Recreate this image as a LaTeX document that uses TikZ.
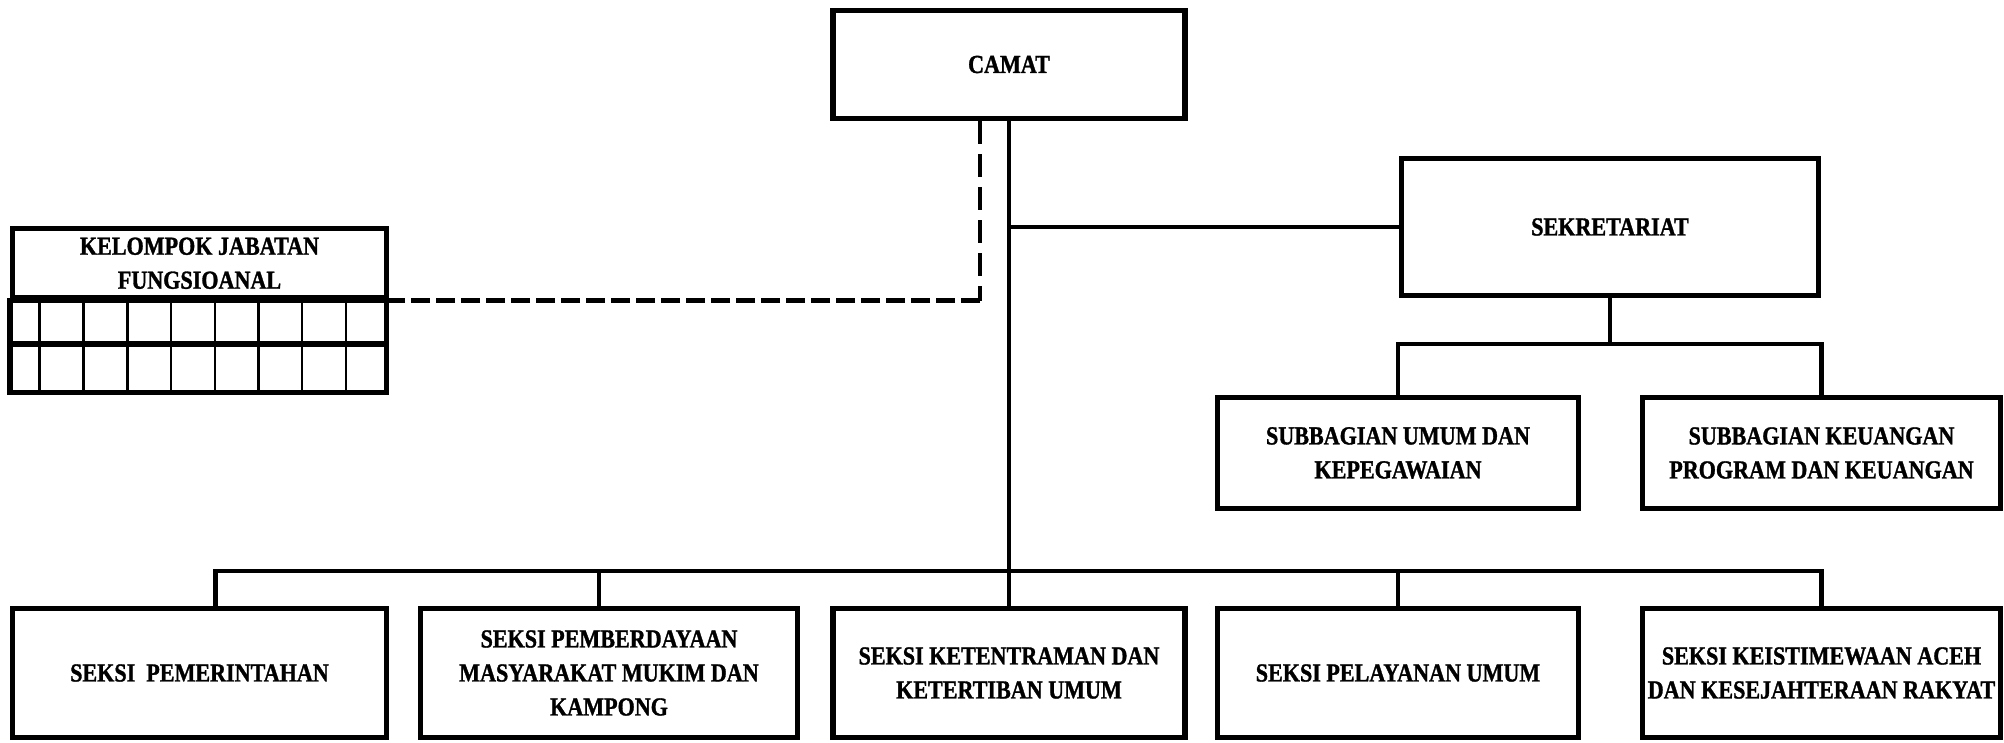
\documentclass[tikz,border=0pt]{standalone}
\usepackage{fontspec}
\setmainfont{Liberation Serif}[FakeStretch=0.85,BoldFeatures={FakeBold=1.2}]
\begin{document}
\begin{tikzpicture}[x=0.5pt,y=-0.5pt,
	kotak/.style={draw,line width=2.7pt,rectangle,align=center,inner sep=0pt,
		font=\bfseries\fontsize{13}{17}\selectfont},
	garis/.style={line width=2.2pt},
	putusv/.style={line width=2.2pt,dash pattern=on 11.5pt off 5pt},
	putush/.style={line width=2.4pt,dash pattern=on 9.5pt off 3pt}]
	\useasboundingbox (0,0) rectangle (2004,743);
	% kepala
	\node[kotak,minimum width=176pt,minimum height=54pt] (camat) at (1009,64.5) {CAMAT};
	\node[kotak,minimum width=208.5pt,minimum height=68.5pt] (sekretariat) at (1610,227) {SEKRETARIAT};
	\node[kotak,minimum width=180.5pt,minimum height=55.5pt] (subumum) at (1398,453) {SUBBAGIAN UMUM DAN\\KEPEGAWAIAN};
	\node[kotak,minimum width=179pt,minimum height=55.5pt] (subkeu) at (1821.5,453) {SUBBAGIAN KEUANGAN\\PROGRAM DAN KEUANGAN};
	% kelompok jabatan
	\node[kotak,minimum width=187pt,minimum height=34.75pt] (kjf) at (199.5,263.25) {KELOMPOK JABATAN\\FUNGSIOANAL};
	\draw[line width=2.7pt] (kjf.south west) rectangle (386.5,392.5);
	\draw[line width=2.7pt] (12.5,344) -- (386.5,344);
	\foreach \x in {39.5,83.5,127.5,171,215,258.5,302,346}
		\draw[line width=1.3pt] (\x,298) -- (\x,392.5);
	% seksi
	\node[kotak,minimum width=187pt,minimum height=64.5pt] (pem) at (199.5,673) {SEKSI\ \ PEMERINTAHAN};
	\node[kotak,minimum width=188.5pt,minimum height=64.5pt] (pmk) at (609,673) {SEKSI PEMBERDAYAAN\\MASYARAKAT MUKIM DAN\\KAMPONG};
	\node[kotak,minimum width=176pt,minimum height=64.5pt] (ktt) at (1009,673) {SEKSI KETENTRAMAN DAN\\KETERTIBAN UMUM};
	\node[kotak,minimum width=180.5pt,minimum height=64.5pt] (pu) at (1398,673) {SEKSI PELAYANAN UMUM};
	\node[kotak,minimum width=179pt,minimum height=64.5pt] (kes) at (1821.5,673) {SEKSI KEISTIMEWAAN ACEH\\DAN KESEJAHTERAAN RAKYAT};
	% garis
	\coordinate (bus) at (1009,571);
	\coordinate (subbus) at (1610,344);
	\coordinate (titik) at (980,0);
	\draw[garis] (camat.south) -- (ktt.north);
	\draw[garis] (camat.south |- sekretariat.west) -- (sekretariat.west);
	\draw[garis] (sekretariat.south) -- (subbus);
	\draw[garis] (subumum.north) |- (subbus) -| (subkeu.north);
	\draw[garis] ([xshift=8pt]pem.north) |- (bus) -| (kes.north);
	\draw[garis] ([xshift=-5pt]pmk.north) -- ([xshift=-5pt]pmk.north |- bus);
	\draw[garis] (pu.north) -- (pu.north |- bus);
	\draw[putusv] (camat.south -| titik) -- (kjf.south -| titik);
	\draw[putush] (kjf.south -| titik) -- (kjf.south east);
\end{tikzpicture}
\end{document}
